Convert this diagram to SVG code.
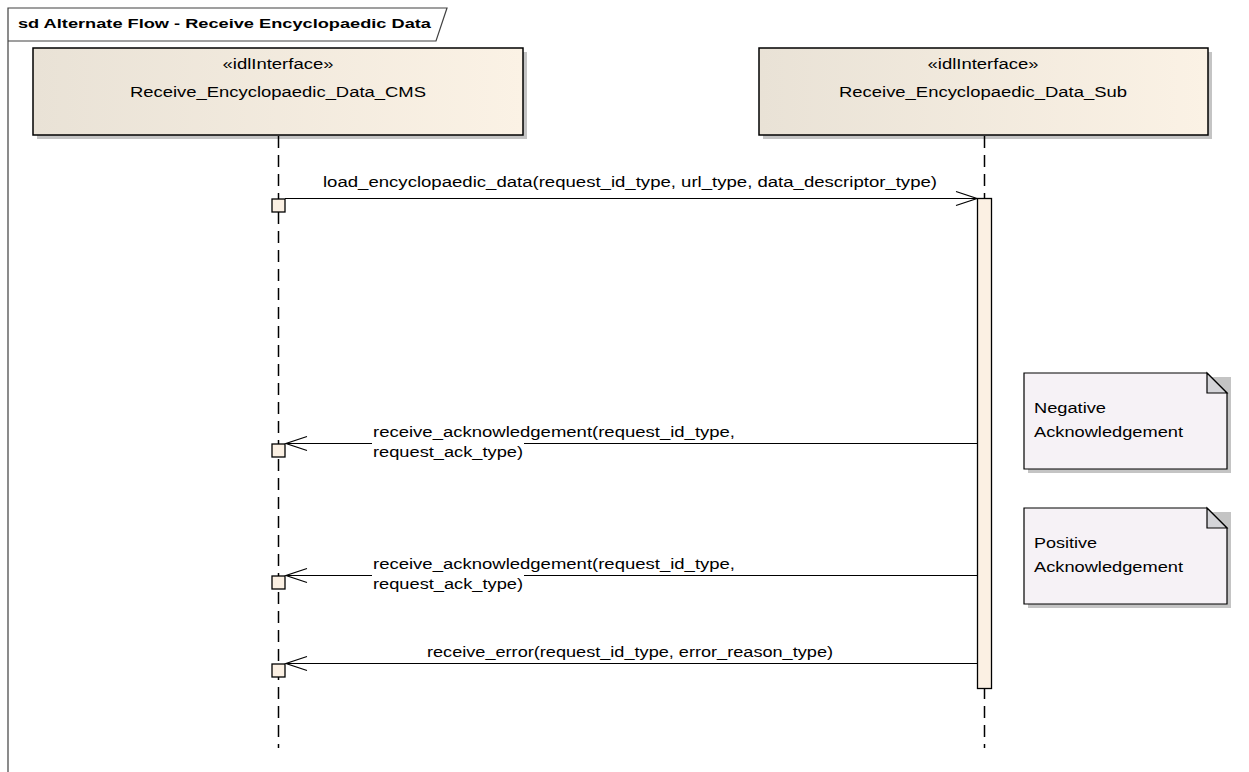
<svg xmlns="http://www.w3.org/2000/svg" width="1249" height="772" viewBox="0 0 1249 772">
<defs>
<linearGradient id="lg" x1="0" y1="0" x2="1" y2="0">
<stop offset="0" stop-color="#E9E2D6"/>
<stop offset="1" stop-color="#FBF2E5"/>
</linearGradient>
<marker id="arr" viewBox="-23 -9 25 18" refX="0" refY="0" markerWidth="25" markerHeight="18" markerUnits="userSpaceOnUse" orient="auto">
<path d="M-21,-7 L0,0 L-21,7" fill="none" stroke="#000" stroke-width="1.2"/>
</marker>
<style>
text{font-family:"Liberation Sans",Arial,sans-serif;font-size:14px;fill:#000}
.title{font-weight:bold;font-size:13.5px}
.box{fill:url(#lg);stroke:#000;stroke-width:1.5}
.shadow{fill:#C4C4C4}
.life{stroke:#000;stroke-width:1.5;stroke-dasharray:12 7;fill:none}
.act{fill:#FBF0E3;stroke:#000;stroke-width:1.3}
.sq{fill:#FBF0E3;stroke:#000;stroke-width:1.3}
.msg{stroke:#000;stroke-width:1.2;fill:none;marker-end:url(#arr)}
.note{fill:#F6F2F6;stroke:#000;stroke-width:1.2}
.fold{fill:#D4D4D8;stroke:#000;stroke-width:1.2}
.mid{text-anchor:middle}
</style>
</defs>
<rect width="1249" height="772" fill="#FFFFFF"/>
<g id="frame">
<path d="M8,772 L8,8 L447,8 L436,41 L8,41" fill="none" stroke="#404040" stroke-width="1.2"/>
<text class="title" x="18" y="28" textLength="413" lengthAdjust="spacingAndGlyphs">sd Alternate Flow - Receive Encyclopaedic Data</text>
</g>
<g id="lifeline-cms">
<rect class="shadow" x="37" y="52" width="490" height="87"/>
<rect class="box" x="33" y="48" width="490" height="87"/>
<text class="mid" x="278" y="69" textLength="111" lengthAdjust="spacingAndGlyphs">«idlInterface»</text>
<text class="mid" x="278" y="97" textLength="296" lengthAdjust="spacingAndGlyphs">Receive_Encyclopaedic_Data_CMS</text>
<line class="life" x1="278.5" y1="136" x2="278.5" y2="748"/>
<rect class="sq" x="272" y="199" width="13" height="13"/>
<rect class="sq" x="272" y="444" width="13" height="13"/>
<rect class="sq" x="272" y="576" width="13" height="13"/>
<rect class="sq" x="272" y="664" width="13" height="13"/>
</g>
<g id="lifeline-sub">
<rect class="shadow" x="763" y="52" width="449" height="87"/>
<rect class="box" x="759" y="48" width="449" height="87"/>
<text class="mid" x="983" y="69" textLength="111" lengthAdjust="spacingAndGlyphs">«idlInterface»</text>
<text class="mid" x="983" y="97" textLength="288" lengthAdjust="spacingAndGlyphs">Receive_Encyclopaedic_Data_Sub</text>
<line class="life" x1="984.5" y1="136" x2="984.5" y2="748"/>
<rect class="act" x="977.5" y="198.5" width="14" height="490"/>
</g>
<g id="note-negative">
<path class="shadow" d="M1028,377 L1231,377 L1231,473 L1028,473 Z"/>
<path class="note" d="M1024,373 L1207,373 L1227,393 L1227,469 L1024,469 Z"/>
<path class="fold" d="M1207,373 L1207,393 L1227,393 Z"/>
<text x="1034" y="413" textLength="72" lengthAdjust="spacingAndGlyphs">Negative</text>
<text x="1034" y="437" textLength="149" lengthAdjust="spacingAndGlyphs">Acknowledgement</text>
</g>
<g id="note-positive">
<path class="shadow" d="M1028,512 L1231,512 L1231,608 L1028,608 Z"/>
<path class="note" d="M1024,508 L1207,508 L1227,528 L1227,604 L1024,604 Z"/>
<path class="fold" d="M1207,508 L1207,528 L1227,528 Z"/>
<text x="1034" y="548" textLength="63" lengthAdjust="spacingAndGlyphs">Positive</text>
<text x="1034" y="572" textLength="149" lengthAdjust="spacingAndGlyphs">Acknowledgement</text>
</g>
<g id="connectors">
<line class="msg" x1="285" y1="198.5" x2="977" y2="198.5"/>
<text x="323" y="187" textLength="614" lengthAdjust="spacingAndGlyphs">load_encyclopaedic_data(request_id_type, url_type, data_descriptor_type)</text>
<line class="msg" x1="977" y1="443.5" x2="286" y2="443.5"/>
<text x="373" y="437" textLength="362" lengthAdjust="spacingAndGlyphs">receive_acknowledgement(request_id_type,</text>
<rect x="372" y="442" width="152" height="18" fill="#FFFFFF"/>
<text x="373" y="457" textLength="150" lengthAdjust="spacingAndGlyphs">request_ack_type)</text>
<line class="msg" x1="977" y1="575.5" x2="286" y2="575.5"/>
<text x="373" y="569" textLength="362" lengthAdjust="spacingAndGlyphs">receive_acknowledgement(request_id_type,</text>
<rect x="372" y="574" width="152" height="18" fill="#FFFFFF"/>
<text x="373" y="589" textLength="150" lengthAdjust="spacingAndGlyphs">request_ack_type)</text>
<line class="msg" x1="977" y1="663.5" x2="286" y2="663.5"/>
<text x="427" y="657" textLength="406" lengthAdjust="spacingAndGlyphs">receive_error(request_id_type, error_reason_type)</text>
</g>
</svg>
